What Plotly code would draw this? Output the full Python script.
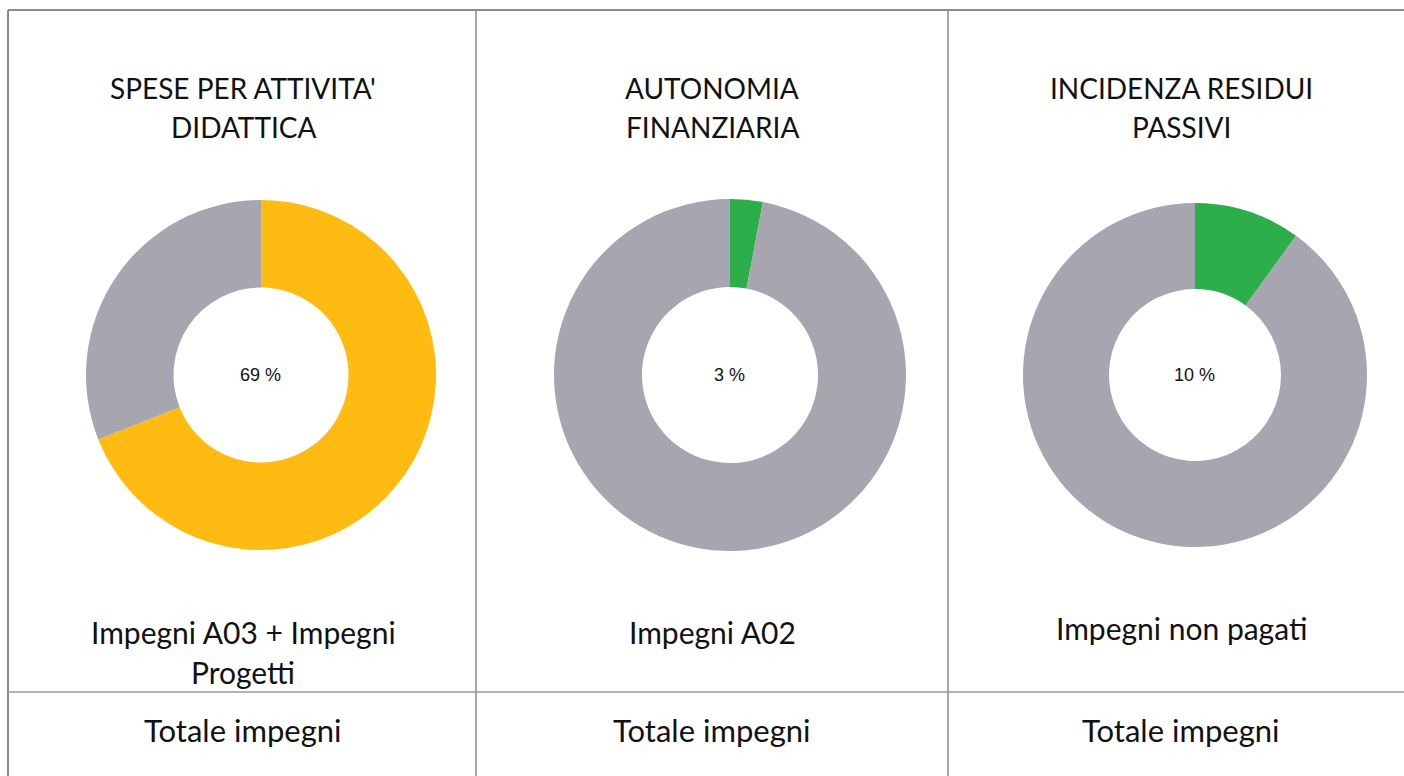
import plotly.graph_objects as go

W, H = 1404, 776

titles = [["SPESE PER ATTIVITA'", "DIDATTICA"], ["AUTONOMIA", "FINANZIARIA"], ["INCIDENZA RESIDUI", "PASSIVI"]]
numerators = [["Impegni A03 + Impegni", "Progetti"], ["Impegni A02"], ["Impegni non pagati"]]
denominators = ["Totale impegni", "Totale impegni", "Totale impegni"]
percent_values = [69, 3, 10]
percent_labels = ["69 %", "3 %", "10 %"]
highlight_colors = ["#FFBB12", "#2CAE4A", "#2CAE4A"]
rest_color = "#A6A5B0"

# layout (window pixels)
donut_centers = [(261, 375, 175), (730, 375, 176), (1195, 375, 172)]
col_centers = [243, 712, 1181]

def px(x):
    return x / W

def py(y):
    return 1 - y / H

fig = go.Figure()
for i, v in enumerate(percent_values):
    cx, cy, r = donut_centers[i]
    fig.add_trace(go.Pie(
        values=[v, 100 - v],
        labels=["val", "rest"],
        hole=0.5,
        sort=False,
        direction="clockwise",
        rotation=0,
        marker=dict(colors=[highlight_colors[i], rest_color], line=dict(width=0)),
        textinfo="none",
        hoverinfo="skip",
        showlegend=False,
        domain=dict(x=[px(cx - r), px(cx + r)], y=[py(cy + r), py(cy - r)]),
    ))

FONT = "Lato, Open Sans, sans-serif"
annotations = []
for i in range(3):
    cx = col_centers[i]
    for j, t in enumerate(titles[i]):
        annotations.append(dict(x=px(cx), y=py(88 + 39 * j), xref="paper", yref="paper",
                                text=t, showarrow=False, font=dict(family=FONT, size=28, color="#111"),
                                xanchor="center", yanchor="middle"))
    n = numerators[i]
    base = 632 if i < 2 else 628
    for j, t in enumerate(n):
        annotations.append(dict(x=px(cx), y=py(base + 40 * j), xref="paper", yref="paper",
                                text=t, showarrow=False,
                                font=dict(family=FONT, size=30, color="#111"),
                                xanchor="center", yanchor="middle"))
    annotations.append(dict(x=px(cx), y=py(730), xref="paper", yref="paper",
                            text=denominators[i], showarrow=False,
                            font=dict(family=FONT, size=31, color="#111"),
                            xanchor="center", yanchor="middle"))
    dx, dy, _ = donut_centers[i]
    annotations.append(dict(x=px(dx - 1), y=py(dy), xref="paper", yref="paper",
                            text=percent_labels[i], showarrow=False,
                            font=dict(family="Liberation Sans, Arial, sans-serif", size=18, color="#111"),
                            xanchor="center", yanchor="middle"))

line_col = "#8a8a8a"
shapes = [
    dict(type="line", xref="paper", yref="paper", x0=px(8), x1=1.0, y0=py(10), y1=py(10), line=dict(color="#666", width=1.5)),
    dict(type="line", xref="paper", yref="paper", x0=px(8), x1=px(8), y0=py(10), y1=0, line=dict(color="#666", width=1.5)),
    dict(type="line", xref="paper", yref="paper", x0=px(476), x1=px(476), y0=py(10), y1=0, line=dict(color=line_col, width=1.5)),
    dict(type="line", xref="paper", yref="paper", x0=px(948), x1=px(948), y0=py(10), y1=0, line=dict(color=line_col, width=1.5)),
    dict(type="line", xref="paper", yref="paper", x0=px(8), x1=1.0, y0=py(692), y1=py(692), line=dict(color="#9a9a9a", width=1.5)),
]

fig.update_layout(
    width=W, height=H,
    margin=dict(l=0, r=0, t=0, b=0),
    paper_bgcolor="white", plot_bgcolor="white",
    annotations=annotations, shapes=shapes,
    showlegend=False,
)
fig.write_html(
    "out.html",
    config={"displayModeBar": False},
    post_script="document.body.style.margin='0px';document.body.style.overflow='hidden';",
)
